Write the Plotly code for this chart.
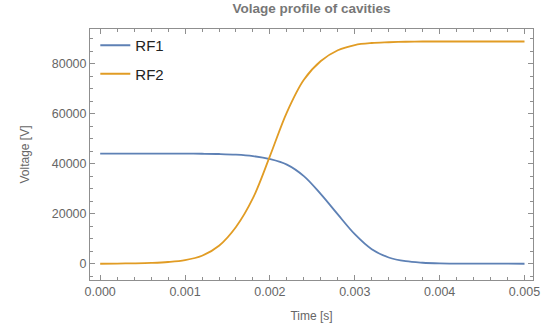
import plotly.graph_objects as go

time_s = [0.0000, 0.0002, 0.0004, 0.0006, 0.0008, 0.0010, 0.0012, 0.0014, 0.0016,
          0.0018, 0.0020, 0.0022, 0.0024, 0.0026, 0.0028, 0.0030, 0.0032, 0.0034,
          0.0036, 0.0038, 0.0040, 0.0042, 0.0044, 0.0046, 0.0048, 0.0050]

rf1_voltage = [44000, 44000, 44000, 44000, 44000, 44000, 43950, 43850, 43600,
               43000, 41800, 39600, 35000, 27800, 19700, 11800, 5800, 2500,
               1000, 400, 150, 60, 25, 10, 5, 0]

rf2_voltage = [0, 60, 170, 350, 700, 1450, 3200, 7200, 14700,
               26200, 43000, 60500, 73500, 81000, 85300, 87400, 88200, 88500,
               88700, 88800, 88800, 88800, 88800, 88800, 88800, 88800]

series_names = ["RF1", "RF2"]
x_ticks = [0.000, 0.001, 0.002, 0.003, 0.004, 0.005]
y_ticks = [0, 20000, 40000, 60000, 80000]

FONT = "Liberation Sans, Arial, sans-serif"

fig = go.Figure()
fig.add_trace(go.Scatter(x=time_s, y=rf1_voltage, name=series_names[0], mode="lines",
                         line=dict(color="#5E81B5", width=1.8, shape="spline", smoothing=1.0),
                         legendgroup="a"))
fig.add_trace(go.Scatter(x=time_s, y=rf2_voltage, name=series_names[1], mode="lines",
                         line=dict(color="#E19C24", width=1.8, shape="spline", smoothing=1.0),
                         legendgroup="b"))

axis_common = dict(
    showgrid=False, zeroline=False, showline=True, linecolor="#8f8f8f", linewidth=1,
    mirror="allticks", ticks="inside", ticklen=5, tickcolor="#8f8f8f", tickwidth=1,
    tickfont=dict(family=FONT, size=12.5, color="#666666"), automargin=False,
)

fig.update_xaxes(
    **axis_common,
    range=[-0.00012, 0.0051],
    tickvals=x_ticks, tickformat=".3f",
    minor=dict(ticks="inside", ticklen=3, dtick=0.0002, tick0=0, tickcolor="#8f8f8f"),
    title=dict(text="Time [s]", font=dict(family=FONT, size=12, color="#666666"), standoff=13),
)
fig.update_yaxes(
    **axis_common,
    range=[-6500, 93800],
    tickvals=y_ticks, tickformat="d",
    minor=dict(ticks="inside", ticklen=3, dtick=5000, tick0=0, tickcolor="#8f8f8f"),
    title=dict(text="Voltage [V]", font=dict(family=FONT, size=12, color="#666666"), standoff=19),
)

fig.update_layout(
    width=543, height=323,
    margin=dict(l=90, r=10, t=29, b=43),
    paper_bgcolor="white", plot_bgcolor="white",
    title=dict(text="<b>Volage profile of cavities</b>", x=0.5, xref="paper", xanchor="center",
               y=1, yref="container", yanchor="top", pad=dict(t=4),
               font=dict(family=FONT, size=13.5, color="#777777")),
    legend=dict(x=0.012, y=1.0, xanchor="left", yanchor="top", traceorder="grouped",
                tracegroupgap=6, bgcolor="rgba(255,255,255,0)",
                font=dict(family=FONT, size=15, color="#222222")),
    showlegend=True,
)

fig.write_html("out.html")
